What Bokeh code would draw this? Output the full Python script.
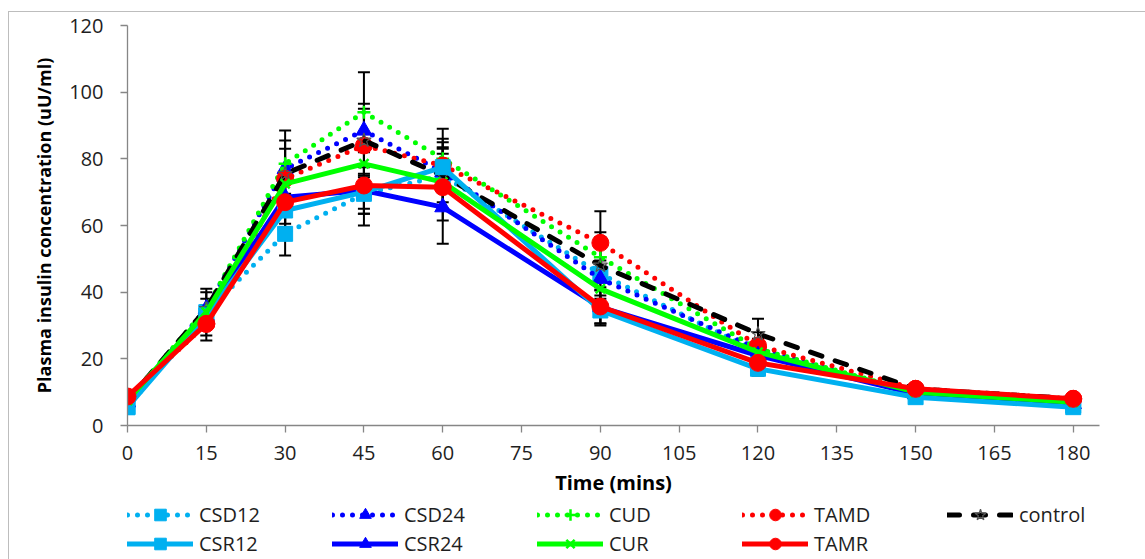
from bokeh.plotting import figure
from bokeh.layouts import column
from bokeh.models import (Range1d, ColumnDataSource, Whisker, TeeHead, Legend,
                          LegendItem, FixedTicker)
from bokeh.embed import file_html
from bokeh.resources import INLINE

# ---------------- data ----------------
time = [0, 15, 30, 45, 60, 90, 120, 150, 180]

CSD12 = [5.5, 34.0, 57.5, 69.5, 75.0, 45.5, 22.0, 10.0, 6.0]
CSR12 = [5.5, 33.0, 64.5, 70.0, 77.5, 34.5, 17.0, 8.5, 5.5]
CSD24 = [7.0, 35.0, 77.0, 88.5, 76.0, 44.0, 23.0, 9.5, 6.5]
CSR24 = [7.0, 33.0, 68.5, 70.5, 65.5, 35.5, 21.0, 9.5, 6.5]
CUD = [7.5, 35.0, 78.5, 94.0, 80.0, 50.5, 23.0, 10.0, 7.0]
CUR = [7.5, 34.0, 72.5, 78.5, 73.0, 41.0, 22.0, 10.0, 7.0]
TAMD = [8.5, 30.5, 74.0, 84.0, 78.0, 54.8, 24.0, 11.0, 8.0]
TAMR = [8.7, 30.5, 67.0, 72.0, 71.5, 35.7, 18.8, 11.0, 8.0]
control = [7.5, 35.0, 75.5, 85.5, 75.0, 48.0, 27.5, 11.0, 8.0]

# error bars (+/-)
err_CUD = [1.0, 5.0, 10.0, 12.0, 9.0, 6.0, 3.0, 1.0, 1.0]
err_control = [1.0, 6.0, 10.0, 11.0, 10.0, 10.0, 4.5, 1.0, 1.0]
err_TAMD = [1.0, 5.0, 9.0, 11.0, 8.0, 9.5, 4.0, 1.0, 1.0]
err_TAMR = [1.0, 3.5, 9.0, 12.0, 10.0, 5.0, 3.5, 1.0, 1.0]
err_CSR24 = [1.0, 3.0, 8.0, 7.0, 11.0, 5.0, 3.0, 1.0, 1.0]
err_CSD12 = [1.0, 4.0, 6.5, 6.0, 8.0, 4.0, 3.0, 1.0, 1.0]
err_CSR12 = [1.0, 3.0, 5.0, 5.0, 6.0, 4.5, 2.0, 1.0, 1.0]

x_ticks = [0, 15, 30, 45, 60, 75, 90, 105, 120, 135, 150, 165, 180]
y_ticks = [0, 20, 40, 60, 80, 100, 120]

x_label = "Time (mins)"
y_label = "Plasma insulin concentration (uU/ml)"

# ---------------- styles ----------------
LB, BL, GR, RD = "#00B0F0", "#0000FF", "#00FF00", "#FF0000"
DOT = "0 10"
styles = {
    "CSD12": dict(color=LB, dash=DOT, marker="square", size=15),
    "CSD24": dict(color=BL, dash=DOT, marker="triangle", size=16),
    "CUD": dict(color=GR, dash=DOT, marker="cross", size=13),
    "TAMD": dict(color=RD, dash=DOT, marker="circle", size=17),
    "control": dict(color="black", dash="12 14", marker="star", size=15),
    "CSR12": dict(color=LB, dash="solid", marker="square", size=15),
    "CSR24": dict(color=BL, dash="solid", marker="triangle", size=16),
    "CUR": dict(color=GR, dash="solid", marker="x", size=13),
    "TAMR": dict(color=RD, dash="solid", marker="circle", size=17),
}
series = {
    "CSD12": CSD12, "CSD24": CSD24, "CUD": CUD, "TAMD": TAMD, "control": control,
    "CSR12": CSR12, "CSR24": CSR24, "CUR": CUR, "TAMR": TAMR,
}
errors = {
    "CUD": err_CUD, "control": err_control, "TAMD": err_TAMD, "TAMR": err_TAMR,
    "CSR24": err_CSR24, "CSD12": err_CSD12, "CSR12": err_CSR12,
}
draw_order = ["CSD12", "CSD24", "CUD", "TAMD", "control",
              "CSR24", "CSR12", "CUR", "TAMR"]
legend_order = ["CSD12", "CSD24", "CUD", "TAMD", "control",
                "CSR12", "CSR24", "CUR", "TAMR"]

FONT = "Open Sans"
TXT = "#1e1e1e"
AXC = "#868686"


def add_series(fig, name, src):
    st = styles[name]
    lr = fig.line("t", "v", source=src, line_color=st["color"], line_width=5,
                  line_dash=st["dash"], line_cap="round", line_join="round")
    if name == "control":
        sr = fig.scatter("t", "v", source=src, marker="star", size=st["size"],
                         fill_color="white", fill_alpha=0.0, line_color="#555555",
                         line_width=1.2)
    elif st["marker"] in ("cross", "x"):
        sr = fig.scatter("t", "v", source=src, marker=st["marker"], size=st["size"],
                         line_color=st["color"], line_width=2.5)
    else:
        sr = fig.scatter("t", "v", source=src, marker=st["marker"], size=st["size"],
                         fill_color=st["color"], line_color=st["color"])
    return [lr, sr]


# ---------------- main chart ----------------
p = figure(width=1136, height=488, output_backend="svg", toolbar_location=None,
           x_range=Range1d(0, 185), y_range=Range1d(0, 120),
           min_border_left=115, min_border_top=13, min_border_right=46,
           min_border_bottom=75)
p.outline_line_color = None
p.grid.grid_line_color = None
p.background_fill_color = "white"
p.border_fill_color = "white"

for ax in (p.xaxis[0], p.yaxis[0]):
    ax.axis_line_color = AXC
    ax.axis_line_width = 1.3
    ax.major_tick_line_color = AXC
    ax.major_tick_line_width = 1.3
    ax.major_tick_in = 0
    ax.major_tick_out = 7
    ax.minor_tick_line_color = None
    ax.major_label_text_font = FONT
    ax.major_label_text_font_size = "20px"
    ax.major_label_text_color = TXT
    ax.axis_label_text_font = FONT
    ax.axis_label_text_font_style = "bold"
    ax.axis_label_text_color = "black"

p.xaxis.ticker = FixedTicker(ticks=x_ticks)
p.yaxis.ticker = FixedTicker(ticks=y_ticks)
p.xaxis.axis_label = x_label
p.yaxis.axis_label = y_label
p.xaxis.axis_label_text_font_size = "20px"
p.yaxis.axis_label_text_font_size = "18px"
p.xaxis.major_label_standoff = 13
p.yaxis.major_label_standoff = 17
p.xaxis.axis_label_standoff = 6
p.yaxis.axis_label_standoff = 10

for name, err in errors.items():
    vals = series[name]
    src = ColumnDataSource(dict(
        t=time,
        upper=[v + e for v, e in zip(vals, err)],
        lower=[v - e for v, e in zip(vals, err)],
    ))
    w = Whisker(base="t", upper="upper", lower="lower", source=src,
                line_color="black", line_width=2,
                upper_head=TeeHead(size=12, line_color="black", line_width=2),
                lower_head=TeeHead(size=12, line_color="black", line_width=2))
    p.add_layout(w)

for name in draw_order:
    add_series(p, name, ColumnDataSource(dict(t=time, v=series[name])))

# ---------------- legend strip (same series, view kept off-data: samples only) ----------------
lg = figure(width=1136, height=59, output_backend="svg", toolbar_location=None,
            x_range=Range1d(-1000, -999), y_range=Range1d(-1000, -999),
            x_axis_type=None, y_axis_type=None,
            min_border_left=118, min_border_right=0, min_border_top=0,
            min_border_bottom=0)
lg.outline_line_color = None
lg.background_fill_color = "white"
lg.border_fill_color = "white"

legend_renderers = {}
for name in legend_order:
    legend_renderers[name] = add_series(
        lg, name, ColumnDataSource(dict(t=time, v=series[name])))

items = [LegendItem(label=n, renderers=legend_renderers[n]) for n in legend_order]
legend = Legend(items=items, location="top_left", orientation="horizontal", ncols=5,
                glyph_width=66, glyph_height=29, label_width=133, label_height=29,
                label_standoff=6, spacing=0, padding=0, margin=0,
                label_text_font=FONT, label_text_font_size="20px",
                label_text_color=TXT, border_line_color=None,
                background_fill_alpha=0.0)
lg.add_layout(legend, "center")

layout = column(p, lg, spacing=0)
layout.styles = {"margin-left": "8px", "margin-top": "11px",
                 "border-left": "1px solid #bdbdbd", "border-top": "1px solid #bdbdbd"}

open("out.html", "w").write(file_html(layout, INLINE))
